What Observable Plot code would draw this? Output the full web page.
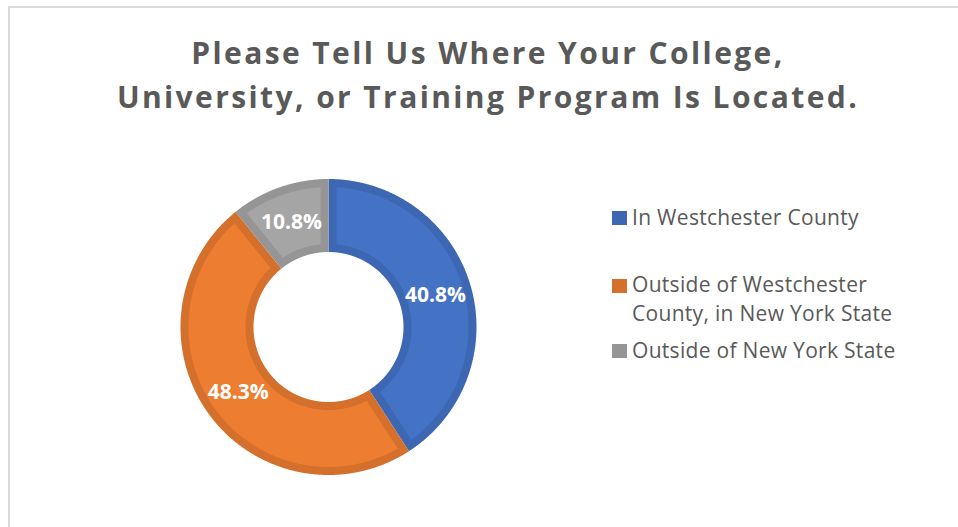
<!DOCTYPE html>
<html>
<head>
<meta charset="utf-8">
<script src="https://cdn.jsdelivr.net/npm/d3@7"></script>
<script src="https://cdn.jsdelivr.net/npm/@observablehq/plot@0.6"></script>
<style>
  html, body { margin: 0; padding: 0; background: #fff; }
  #wrap { position: relative; width: 958px; height: 527px; overflow: hidden; font-family: "Open Sans", sans-serif; }
  #frame { position: absolute; left: 8px; top: 6px; right: 0; bottom: 0; border-left: 2px solid #d9d9d9; border-top: 2px solid #d9d9d9; }
  #chart { position: absolute; left: 0; top: 0; }
  #title { position: absolute; left: 0; top: 31px; width: 976px; text-align: center; color: #595959;
           font-size: 30px; font-weight: 700; line-height: 44px; letter-spacing: 2.4px; }
  .item { position: absolute; left: 612px; }
  .sw { position: absolute; left: 0; width: 14.5px; height: 14.5px; }
  .lbl { position: absolute; left: 20px; white-space: nowrap; color: #595959; font-size: 21px; line-height: 28.5px; letter-spacing: 0.3px; }
</style>
</head>
<body>
<div id="wrap">
  <div id="frame"></div>
  <div id="chart"></div>
  <div id="title"></div>
  <div id="legend"></div>
</div>
<script>
// ---- data ----
const titleLines = ["Please Tell Us Where Your College,", "University, or Training Program Is Located."];
const categories = ["In Westchester County", "Outside of Westchester County, in New York State", "Outside of New York State"];
const legendLines = [["In Westchester County"], ["Outside of Westchester", "County, in New York State"], ["Outside of New York State"]];
const values = [40.8, 48.3, 10.8];
const valueLabels = ["40.8%", "48.3%", "10.8%"];
const fillColors = ["#4472c4", "#ed7d31", "#a5a5a5"];
const borderColors = ["#3d67b3", "#d46f2c", "#959595"];

// ---- layout ----
const W = 958, H = 527;
const cx = 328, cy = 326.5;
const R = 148, r = 75, band = 8;

const total = d3.sum(values);
let acc = 0;
const slices = values.map((v, i) => {
  const a0 = acc / total * 2 * Math.PI;
  acc += v;
  const a1 = acc / total * 2 * Math.PI;
  return {i, a0, a1};
});

function ring(a0, a1, ri, ro, inset, key, color) {
  const pts = [];
  const so = a0 + Math.asin(inset / ro), eo = a1 - Math.asin(inset / ro);
  const si = a0 + Math.asin(inset / ri), ei = a1 - Math.asin(inset / ri);
  const no = Math.max(2, Math.ceil((eo - so) / 0.005));
  for (let k = 0; k <= no; k++) {
    const a = so + (eo - so) * k / no;
    pts.push({x: ro * Math.sin(a), y: -ro * Math.cos(a), key, color});
  }
  const ni = Math.max(2, Math.ceil((ei - si) / 0.005));
  for (let k = 0; k <= ni; k++) {
    const a = ei - (ei - si) * k / ni;
    pts.push({x: ri * Math.sin(a), y: -ri * Math.cos(a), key, color});
  }
  pts.push({...pts[0]});
  return pts;
}

const outerPolys = slices.flatMap(s => ring(s.a0, s.a1, r, R, 0, "o" + s.i, borderColors[s.i]));
const innerPolys = slices.flatMap(s => ring(s.a0, s.a1, r + band, R - band, band, "i" + s.i, fillColors[s.i]));
const labelData = slices.map(s => {
  const m = (s.a0 + s.a1) / 2, rm = (r + R) / 2;
  return {x: rm * Math.sin(m), y: -rm * Math.cos(m), text: valueLabels[s.i], cat: categories[s.i]};
});

const chart = Plot.plot({
  width: W, height: H, margin: 0,
  style: {fontFamily: "Open Sans", background: "transparent"},
  x: {domain: [-cx, W - cx], range: [0, W], axis: null},
  y: {domain: [-cy, H - cy], range: [0, H], axis: null},
  color: {type: "identity"},
  marks: [
    Plot.line(outerPolys, {x: "x", y: "y", z: "key", fill: "color", stroke: "none"}),
    Plot.line(innerPolys, {x: "x", y: "y", z: "key", fill: "color", stroke: "none"}),
    Plot.text(labelData, {x: "x", y: "y", text: "text", fill: "white", fontSize: 21, fontWeight: "bold"})
  ]
});
document.getElementById("chart").appendChild(chart);

document.getElementById("title").innerHTML = titleLines.join("<br>");

const legendTops = [202.6, 270.3, 335.6];
const legend = document.getElementById("legend");
legendLines.forEach((lines, i) => {
  const item = document.createElement("div");
  item.className = "item";
  item.style.top = legendTops[i] + "px";
  const sw = document.createElement("div");
  sw.className = "sw";
  sw.style.background = borderColors[i];
  sw.style.top = "8.4px";
  item.appendChild(sw);
  const lbl = document.createElement("div");
  lbl.className = "lbl";
  lbl.innerHTML = lines.join("<br>");
  item.appendChild(lbl);
  legend.appendChild(item);
});
</script>
</body>
</html>
